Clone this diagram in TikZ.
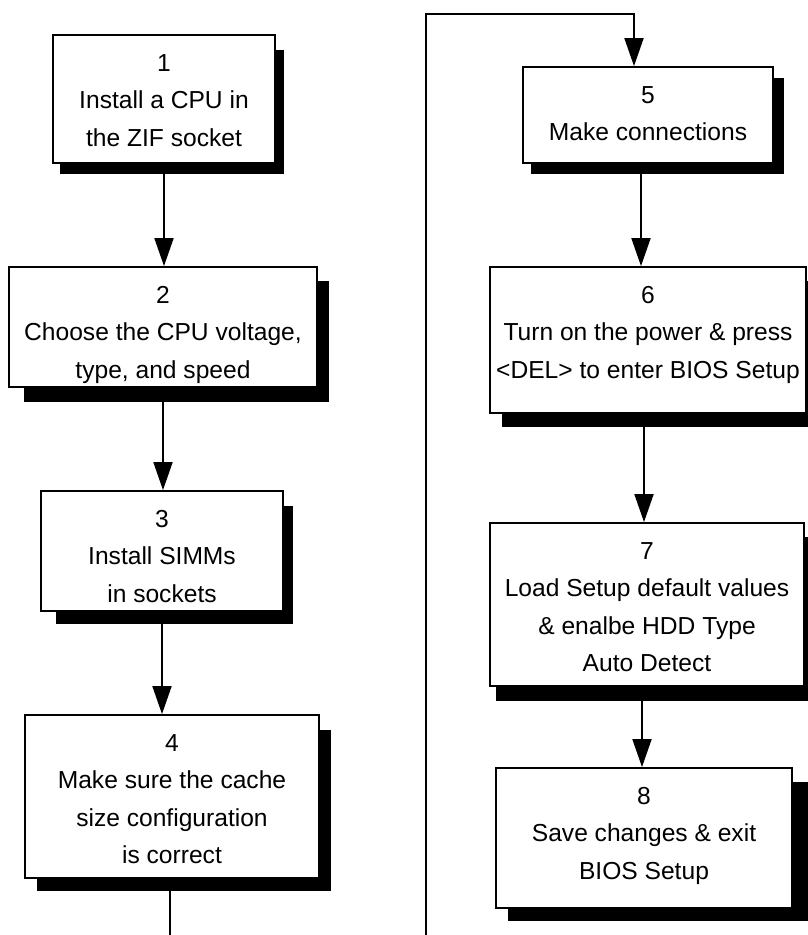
\documentclass[tikz,border=0pt]{standalone}
\usepackage{fontspec}
\setmainfont{Liberation Sans}
\usetikzlibrary{arrows.meta,backgrounds}
\newcommand\boxshadow[5]{\fill ([xshift=#2pt,yshift=-#3pt]#1.north west) rectangle ([xshift=#4pt,yshift=-#5pt]#1.south east);}
\begin{document}
\begin{tikzpicture}[x=1pt,y=-1pt,
  box/.style={draw,fill=white,line width=1.8pt,inner sep=0pt},
  txt/.style={anchor=north,inner sep=0pt,align=center,font=\fontsize{24.6}{37.5}\selectfont},
  conn/.style={line width=1.8pt},
  arr/.style={conn,-{Triangle[length=28pt,width=19pt]}}]
\useasboundingbox (0,0) rectangle (808,935);
% boxes
\node[box,minimum width=222pt,minimum height=128pt] (b1) at (164,99) {};
\node[box,minimum width=308pt,minimum height=120pt] (b2) at (163,327) {};
\node[box,minimum width=242pt,minimum height=120pt] (b3) at (162,551) {};
\node[box,minimum width=294pt,minimum height=163pt] (b4) at (172,796.5) {};
\node[box,minimum width=250pt,minimum height=96pt] (b5) at (648,115) {};
\node[box,minimum width=316pt,minimum height=146pt] (b6) at (648,340) {};
\node[box,minimum width=314pt,minimum height=163pt] (b7) at (647,604.5) {};
\node[box,minimum width=296pt,minimum height=140pt] (b8) at (644,838) {};
% shadows
\begin{scope}[on background layer]
\boxshadow{b1}{8}{16}{8}{10}
\boxshadow{b2}{16}{15}{11}{14}
\boxshadow{b3}{16}{16}{9}{12}
\boxshadow{b4}{13}{16}{11}{12}
\boxshadow{b5}{9}{12}{10}{10}
\boxshadow{b6}{13}{15}{10}{13}
\boxshadow{b7}{7}{15}{10}{14}
\boxshadow{b8}{13}{15}{15}{12}
\end{scope}
% texts
\node[txt] (t1) at ([yshift=-20pt]b1.north) {1\\Install a CPU in\\the ZIF socket};
\node[txt] (t2) at ([yshift=-20pt]b2.north) {2\\Choose the CPU voltage,\\type, and speed};
\node[txt] (t3) at ([yshift=-20pt]b3.north) {3\\Install SIMMs\\in sockets};
\node[txt] (t4) at ([yshift=-20pt]b4.north) {4\\Make sure the cache\\size configuration\\is correct};
\node[txt] (t5) at ([yshift=-20pt]b5.north) {5\\Make connections};
\node[txt] (t6) at ([yshift=-20pt]b6.north) {6\\Turn on the power \& press\\<DEL> to enter BIOS Setup};
\node[txt] (t7) at ([yshift=-20pt]b7.north) {7\\Load Setup default values\\\& enalbe HDD Type\\Auto Detect};
\node[txt] (t8) at ([yshift=-20pt]b8.north) {8\\Save changes \& exit\\BIOS Setup};
% connectors
\draw[arr] (b1.south) -- (b1.south |- b2.north);
\draw[arr] (b2.south) -- (b2.south |- b3.north);
\draw[arr] (b3.south) -- (b3.south |- b4.north);
\coordinate (e4) at (170,935);
\draw[conn] (b4.south -| e4) -- (e4);
\coordinate (lb) at (426,935);
\coordinate (lt) at (426,14);
\coordinate (a5) at ([xshift=-14pt]b5.north);
\draw[arr] (lb) -- (lt) -| (a5);
\coordinate (a56) at ([xshift=-7pt]b5.south);
\draw[arr] (a56) -- (a56 |- b6.north);
\coordinate (a67) at ([xshift=-4pt]b6.south);
\draw[arr] (a67) -- (a67 |- b7.north);
\coordinate (a78) at ([xshift=-5pt]b7.south);
\draw[arr] (a78) -- (a78 |- b8.north);
\end{tikzpicture}
\end{document}
